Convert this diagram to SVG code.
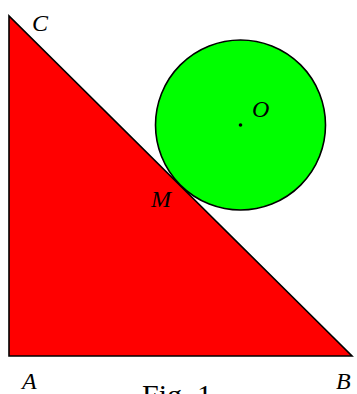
<svg xmlns="http://www.w3.org/2000/svg" width="357" height="394" viewBox="0 0 357 394">
<style>
.lbl{font-family:"Liberation Serif","Times New Roman",serif;font-style:italic;font-size:24px;fill:#000}
.cap{font-family:"Liberation Serif","Times New Roman",serif;font-size:30px;fill:#000}
</style>
<rect width="357" height="394" fill="#fff"/>
<g id="triangle">
<polygon points="9,16 9,356 352,356" fill="#ff0000" stroke="#000" stroke-width="1.6" stroke-linejoin="miter"/>
</g>
<g id="circle">
<circle cx="240.5" cy="125" r="85" fill="#00ff00" stroke="#000" stroke-width="1.6"/>
<circle cx="240.5" cy="125" r="1.8" fill="#000"/>
</g>
<g id="labels">
<text class="lbl" x="32" y="31">C</text>
<text class="lbl" x="252" y="117">O</text>
<text class="lbl" x="151" y="207">M</text>
<text class="lbl" x="22" y="389">A</text>
<text class="lbl" x="336" y="389">B</text>
<text class="cap" x="142" y="405">Fig. 1</text>
</g>
</svg>
